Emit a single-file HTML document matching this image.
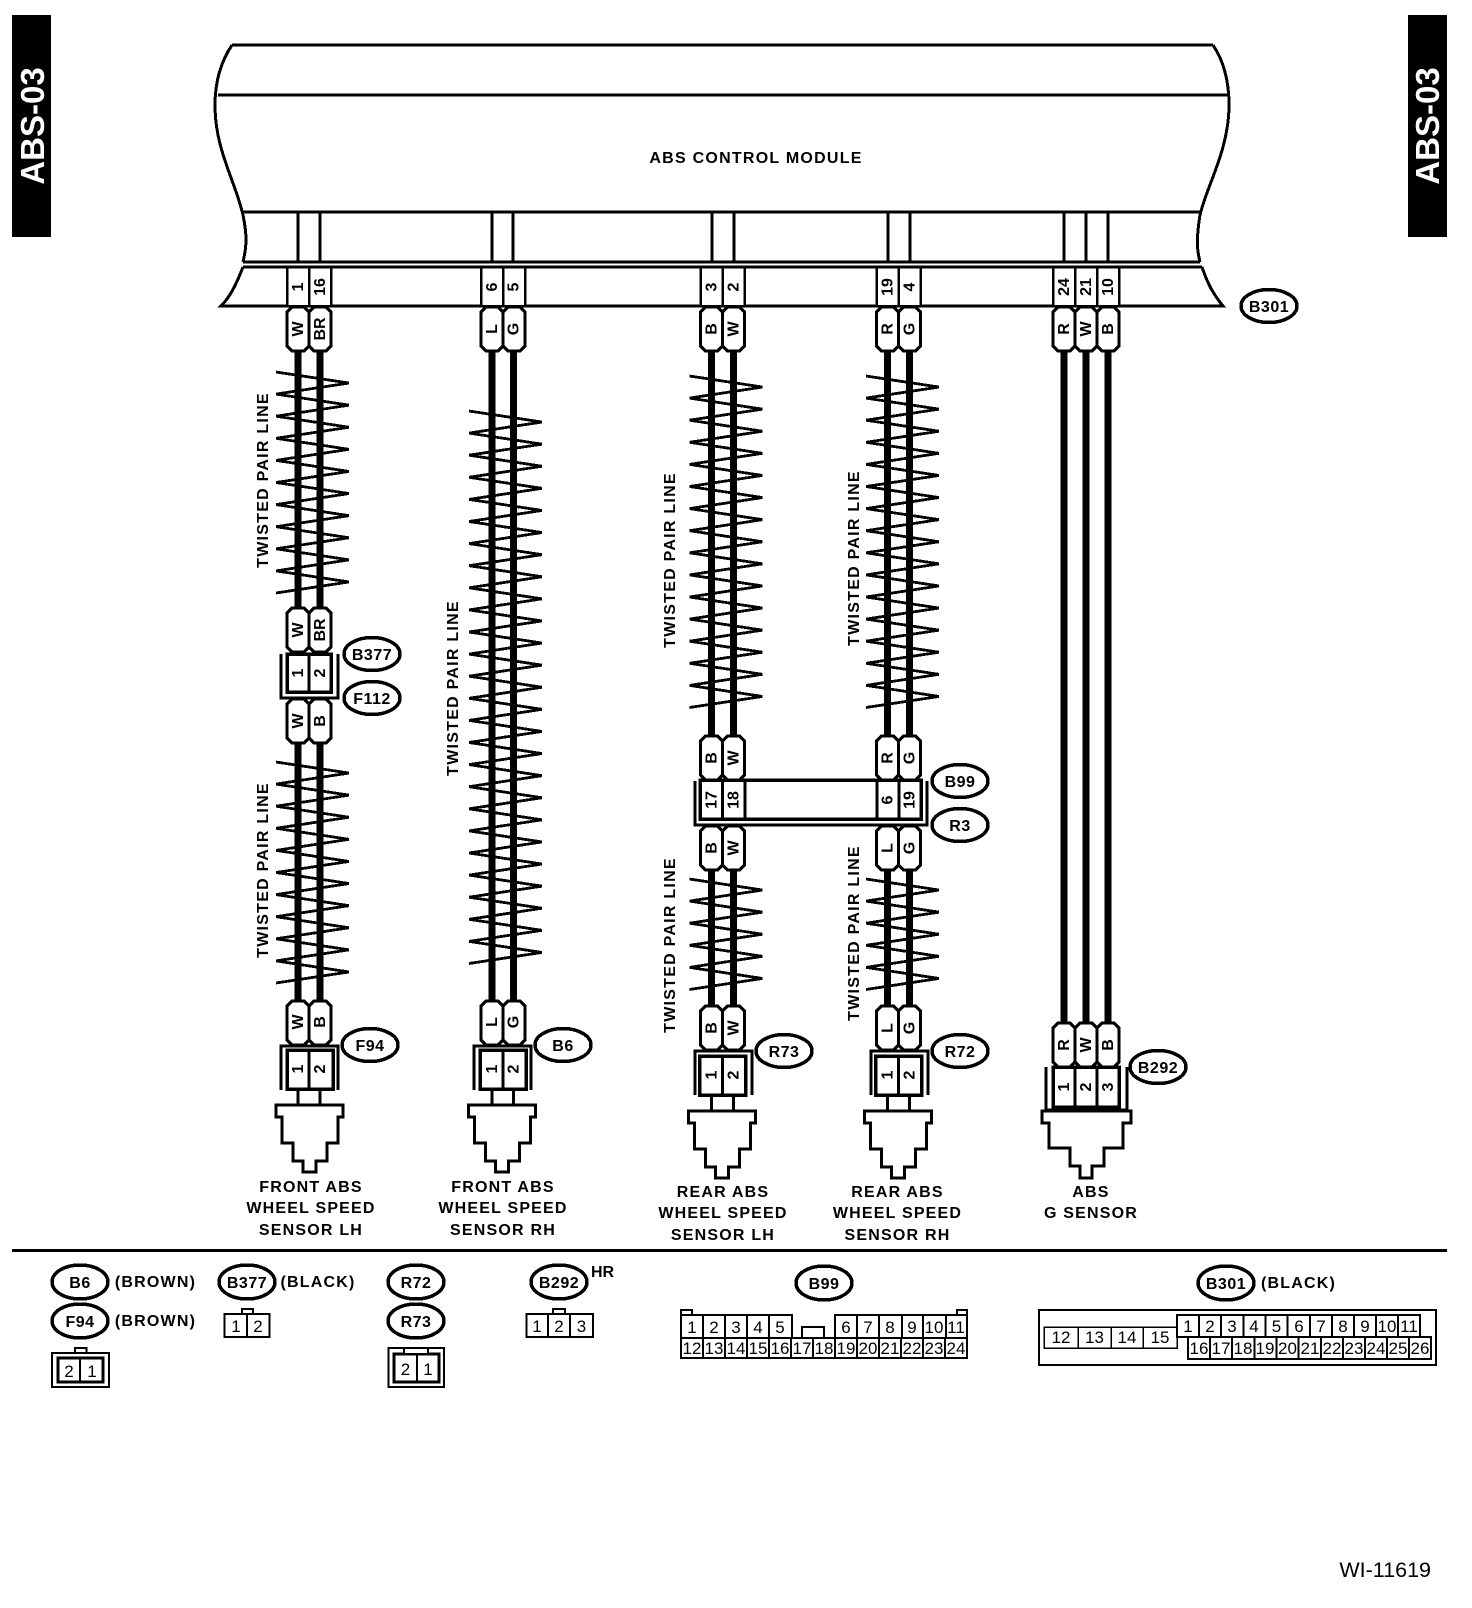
<!DOCTYPE html>
<html lang="en">
<head>
<meta charset="utf-8">
<title>ABS-03 wiring diagram</title>
<style>
html,body{margin:0;padding:0;background:#fff;width:1472px;height:1608px;overflow:hidden}
svg{display:block}
text{font-family:"Liberation Sans",sans-serif;fill:#000}
.b{font-weight:bold;font-size:16px}
.m{text-anchor:middle}
.ls{letter-spacing:1.25px}
.l{font-size:16px;font-weight:bold;letter-spacing:1.2px;text-anchor:middle}
.n{font-size:17px;text-anchor:middle}
.s{fill:none;stroke:#000;stroke-width:3}
.t{fill:#fff;stroke:#000;stroke-width:3}
.c{fill:#fff;stroke:#000;stroke-width:2}
.o{fill:#fff;stroke:#000;stroke-width:3.5}
.w{stroke:#000;stroke-width:7;fill:none}
.z{fill:none;stroke:#000;stroke-width:2.8}
.k{stroke-width:3.5}
</style>
</head>
<body>
<svg width="1472" height="1608" viewBox="0 0 1472 1608" xmlns="http://www.w3.org/2000/svg" shape-rendering="crispEdges">
<defs>
<path id="tm" class="t" d="M5 0H17L22 5V39L17 44H5L0 39V5Z"/>
<path id="z5" class="z" d="M0 0l73 11.05-73 11.05l73 11.05-73 11.05l73 11.05-73 11.05l73 11.05-73 11.05l73 11.05-73 11.05"/>
<path id="sn" class="s" d="M276 1105H343V1117H338V1143H327V1161H316V1172H303V1161H293V1143H282V1117H276Z"/>
</defs>

<!-- side tabs -->
<rect x="12" y="15" width="39" height="222" fill="#000"/>
<rect x="1408" y="15" width="39" height="222" fill="#000"/>
<text transform="translate(44 126) rotate(-90)" class="b m" style="font-size:33px;fill:#fff">ABS-03</text>
<text transform="translate(1439 126) rotate(-90)" class="b m" style="font-size:33px;fill:#fff">ABS-03</text>

<!-- module -->
<path class="s" d="M232 45H1213"/>
<path class="s" d="M218 95H1228"/>
<path class="s" d="M243 212H1201"/>
<path class="s" d="M243 262H1200"/>
<path class="s" d="M243 267H1202"/>
<path class="s" d="M232 45C222 60 215 80 215 105C215 150 235 180 243 215C247 235 247 245 243 262"/>
<path class="s" d="M1213 45C1223 60 1229 80 1229 105C1229 150 1207 185 1200 215C1196 240 1197 250 1200 262"/>
<path class="s" d="M243 267C236 285 230 297 221 306H1223C1214 295 1208 285 1202 267"/>
<text x="756" y="163" class="b m ls">ABS CONTROL MODULE</text>
<path class="s" d="M298 212V262M320 212V262M492 212V262M513 212V262M712 212V262M734 212V262M888 212V262M910 212V262M1064 212V262M1086 212V262M1108 212V262"/>

<!-- top pin boxes -->
<g class="c" style="stroke-width:2.500">
<rect x="287" y="267" width="22" height="39"/><rect x="309" y="267" width="22" height="39"/>
<rect x="481" y="267" width="22" height="39"/><rect x="503" y="267" width="22" height="39"/>
<rect x="700.500" y="267" width="22" height="39"/><rect x="722.500" y="267" width="22" height="39"/>
<rect x="876.500" y="267" width="22" height="39"/><rect x="898.500" y="267" width="22" height="39"/>
<rect x="1053" y="267" width="22" height="39"/><rect x="1075" y="267" width="22" height="39"/><rect x="1097" y="267" width="22" height="39"/>
</g>
<g class="b m" transform="translate(-1.5 0)">
<text transform="translate(304.500 287) rotate(-90)">1</text><text transform="translate(326.500 287) rotate(-90)">16</text>
<text transform="translate(498.500 287) rotate(-90)">6</text><text transform="translate(520 287) rotate(-90)">5</text>
<text transform="translate(718 287) rotate(-90)">3</text><text transform="translate(740 287) rotate(-90)">2</text>
<text transform="translate(894 287) rotate(-90)">19</text><text transform="translate(916 287) rotate(-90)">4</text>
<text transform="translate(1070.500 287) rotate(-90)">24</text><text transform="translate(1092.500 287) rotate(-90)">21</text><text transform="translate(1114.500 287) rotate(-90)">10</text>
</g>

<!-- wires -->
<path class="w" d="M298 351V608M320 351V608M298 743V1001M320 743V1001"/>
<path class="w" d="M492 351V1001M513.500 351V1001"/>
<path class="w" d="M711.500 351V736M733.500 351V736M711.500 870V1006M733.500 870V1006"/>
<path class="w" d="M887.500 351V736M909.500 351V736M887.500 870V1006M909.500 870V1006"/>
<path class="w" d="M1064 351V1023M1086 351V1023M1108 351V1023"/>

<!-- twists -->
<use href="#z5" x="276" y="372"/><use href="#z5" x="276" y="482.500"/>
<use href="#z5" x="276" y="762"/><use href="#z5" x="276" y="872.500"/>
<use href="#z5" x="469" y="411"/><use href="#z5" x="469" y="521.500"/><use href="#z5" x="469" y="632"/><use href="#z5" x="469" y="742.500"/><use href="#z5" x="469" y="853"/>
<use href="#z5" x="689.500" y="376"/><use href="#z5" x="689.500" y="486.500"/><use href="#z5" x="689.500" y="597"/>
<use href="#z5" x="866" y="376"/><use href="#z5" x="866" y="486.500"/><use href="#z5" x="866" y="597"/>
<use href="#z5" x="689.500" y="879"/>
<use href="#z5" x="866" y="879"/>

<g class="b m ls" transform="translate(-2 -1)">
<text transform="translate(270 481) rotate(-90)">TWISTED PAIR LINE</text>
<text transform="translate(270 871) rotate(-90)">TWISTED PAIR LINE</text>
<text transform="translate(460 689) rotate(-90)">TWISTED PAIR LINE</text>
<text transform="translate(677 561) rotate(-90)">TWISTED PAIR LINE</text>
<text transform="translate(677 946) rotate(-90)">TWISTED PAIR LINE</text>
<text transform="translate(861 559) rotate(-90)">TWISTED PAIR LINE</text>
<text transform="translate(861 934) rotate(-90)">TWISTED PAIR LINE</text>
</g>

<!-- top terminals -->
<use href="#tm" x="287" y="307"/><use href="#tm" x="309" y="307"/>
<use href="#tm" x="481" y="307"/><use href="#tm" x="503" y="307"/>
<use href="#tm" x="700.500" y="307"/><use href="#tm" x="722.500" y="307"/>
<use href="#tm" x="876.500" y="307"/><use href="#tm" x="898.500" y="307"/>
<use href="#tm" x="1053" y="307"/><use href="#tm" x="1075" y="307"/><use href="#tm" x="1097" y="307"/>
<g class="b m" transform="translate(-1.5 0)">
<text transform="translate(304.500 329) rotate(-90)">W</text><text transform="translate(326.500 329) rotate(-90)">BR</text>
<text transform="translate(498.500 329) rotate(-90)">L</text><text transform="translate(520 329) rotate(-90)">G</text>
<text transform="translate(718 329) rotate(-90)">B</text><text transform="translate(740 329) rotate(-90)">W</text>
<text transform="translate(894 329) rotate(-90)">R</text><text transform="translate(916 329) rotate(-90)">G</text>
<text transform="translate(1070.500 329) rotate(-90)">R</text><text transform="translate(1092.500 329) rotate(-90)">W</text><text transform="translate(1114.500 329) rotate(-90)">B</text>
</g>

<!-- B377 / F112 -->
<use href="#tm" x="287" y="608"/><use href="#tm" x="309" y="608"/>
<rect x="287" y="654" width="44" height="38" class="t k"/><path class="s" d="M309 654V692"/>
<path class="s" d="M281 654V698H338V654"/>
<use href="#tm" x="287" y="699"/><use href="#tm" x="309" y="699"/>
<g class="b m" transform="translate(-1.5 0)">
<text transform="translate(304.500 630) rotate(-90)">W</text><text transform="translate(326.500 630) rotate(-90)">BR</text>
<text transform="translate(304.500 673) rotate(-90)">1</text><text transform="translate(326.500 673) rotate(-90)">2</text>
<text transform="translate(304.500 721) rotate(-90)">W</text><text transform="translate(326.500 721) rotate(-90)">B</text>
</g>

<!-- B99 / R3 -->
<use href="#tm" x="700.500" y="736"/><use href="#tm" x="722.500" y="736"/>
<use href="#tm" x="876.500" y="736"/><use href="#tm" x="898.500" y="736"/>
<rect x="700" y="780" width="221" height="39" class="t k"/>
<path class="s" d="M722.500 780V819M745 780V819M877 780V819M899 780V819"/>
<path class="s" d="M695 781V825H927V781"/>
<use href="#tm" x="700.500" y="826"/><use href="#tm" x="722.500" y="826"/>
<use href="#tm" x="876.500" y="826"/><use href="#tm" x="898.500" y="826"/>
<g class="b m" transform="translate(-1.5 0)">
<text transform="translate(718 758) rotate(-90)">B</text><text transform="translate(740 758) rotate(-90)">W</text>
<text transform="translate(894 758) rotate(-90)">R</text><text transform="translate(916 758) rotate(-90)">G</text>
<text transform="translate(718 800) rotate(-90)">17</text><text transform="translate(740 800) rotate(-90)">18</text>
<text transform="translate(894 800) rotate(-90)">6</text><text transform="translate(916 800) rotate(-90)">19</text>
<text transform="translate(718 848) rotate(-90)">B</text><text transform="translate(740 848) rotate(-90)">W</text>
<text transform="translate(894 848) rotate(-90)">L</text><text transform="translate(916 848) rotate(-90)">G</text>
</g>

<!-- bottom connectors & sensors -->
<!-- col1 -->
<use href="#tm" x="287" y="1001"/><use href="#tm" x="309" y="1001"/>
<path class="s" d="M281 1090V1046H338V1090"/>
<rect x="287" y="1050" width="46" height="39" class="t k"/><path class="s" d="M309 1050V1089"/>
<path class="s" d="M298 1089V1105M320 1089V1105"/>
<use href="#sn"/>
<!-- col2 -->
<use href="#tm" x="481" y="1001"/><use href="#tm" x="503" y="1001"/>
<path class="s" d="M474 1090V1046H531V1090"/>
<rect x="480" y="1050" width="46" height="39" class="t k"/><path class="s" d="M503 1050V1089"/>
<path class="s" d="M492 1089V1105M513.500 1089V1105"/>
<use href="#sn" x="192.500"/>
<!-- col3 -->
<use href="#tm" x="700.500" y="1006"/><use href="#tm" x="722.500" y="1006"/>
<path class="s" d="M695 1095V1051H752V1095"/>
<rect x="699.500" y="1056" width="46" height="39" class="t k"/><path class="s" d="M722.500 1056V1095"/>
<path class="s" d="M711.500 1095V1111M733.500 1095V1111"/>
<use href="#sn" x="412.500" y="6"/>
<!-- col4 -->
<use href="#tm" x="876.500" y="1006"/><use href="#tm" x="898.500" y="1006"/>
<path class="s" d="M871 1095V1051H928V1095"/>
<rect x="875.500" y="1056" width="46" height="39" class="t k"/><path class="s" d="M898.500 1056V1095"/>
<path class="s" d="M887.500 1095V1111M909.500 1095V1111"/>
<use href="#sn" x="588.500" y="6"/>
<!-- col5 -->
<use href="#tm" x="1053" y="1023"/><use href="#tm" x="1075" y="1023"/><use href="#tm" x="1097" y="1023"/>
<path class="s" d="M1046 1067V1110H1127V1067"/>
<rect x="1053" y="1067" width="66" height="40" class="t k"/><path class="s" d="M1075 1067V1107M1097 1067V1107"/>
<path class="s" d="M1042 1111H1131V1123H1123V1148H1104V1166H1092V1178H1080V1166H1070V1148H1049V1123H1042Z"/>

<g class="b m" transform="translate(-1.5 0)">
<text transform="translate(304.500 1022) rotate(-90)">W</text><text transform="translate(326.500 1022) rotate(-90)">B</text>
<text transform="translate(304.500 1069) rotate(-90)">1</text><text transform="translate(326.500 1069) rotate(-90)">2</text>
<text transform="translate(498.500 1022) rotate(-90)">L</text><text transform="translate(520 1022) rotate(-90)">G</text>
<text transform="translate(498.500 1069) rotate(-90)">1</text><text transform="translate(520 1069) rotate(-90)">2</text>
<text transform="translate(718 1028) rotate(-90)">B</text><text transform="translate(740 1028) rotate(-90)">W</text>
<text transform="translate(718 1075) rotate(-90)">1</text><text transform="translate(740 1075) rotate(-90)">2</text>
<text transform="translate(894 1028) rotate(-90)">L</text><text transform="translate(916 1028) rotate(-90)">G</text>
<text transform="translate(894 1075) rotate(-90)">1</text><text transform="translate(916 1075) rotate(-90)">2</text>
<text transform="translate(1070.500 1045) rotate(-90)">R</text><text transform="translate(1092.500 1045) rotate(-90)">W</text><text transform="translate(1114.500 1045) rotate(-90)">B</text>
<text transform="translate(1070.500 1087) rotate(-90)">1</text><text transform="translate(1092.500 1087) rotate(-90)">2</text><text transform="translate(1114.500 1087) rotate(-90)">3</text>
</g>

<!-- callout ovals -->
<g>
<ellipse class="o" cx="1269" cy="306" rx="28" ry="16.500"/>
<ellipse class="o" cx="372" cy="654" rx="28" ry="16.500"/>
<ellipse class="o" cx="372" cy="698" rx="28" ry="16.500"/>
<ellipse class="o" cx="370" cy="1045" rx="28" ry="16.500"/>
<ellipse class="o" cx="563" cy="1045" rx="28" ry="16.500"/>
<ellipse class="o" cx="960" cy="781" rx="28" ry="16.500"/>
<ellipse class="o" cx="960" cy="825" rx="28" ry="16.500"/>
<ellipse class="o" cx="784" cy="1051" rx="28" ry="16.500"/>
<ellipse class="o" cx="960" cy="1051" rx="28" ry="16.500"/>
<ellipse class="o" cx="1158" cy="1067" rx="28" ry="16.500"/>
</g>
<g class="l" style="letter-spacing:.5px">
<text x="1269" y="312">B301</text>
<text x="372" y="660">B377</text>
<text x="372" y="704">F112</text>
<text x="370" y="1051">F94</text>
<text x="563" y="1051">B6</text>
<text x="960" y="787">B99</text>
<text x="960" y="831">R3</text>
<text x="784" y="1057">R73</text>
<text x="960" y="1057">R72</text>
<text x="1158" y="1073">B292</text>
</g>

<!-- sensor labels -->
<g class="l">
<text x="311" y="1192">FRONT ABS</text><text x="311" y="1213">WHEEL SPEED</text><text x="311" y="1235">SENSOR LH</text>
<text x="503" y="1192">FRONT ABS</text><text x="503" y="1213">WHEEL SPEED</text><text x="503" y="1235">SENSOR RH</text>
<text x="723" y="1197">REAR ABS</text><text x="723" y="1218">WHEEL SPEED</text><text x="723" y="1240">SENSOR LH</text>
<text x="897.500" y="1197">REAR ABS</text><text x="897.500" y="1218">WHEEL SPEED</text><text x="897.500" y="1240">SENSOR RH</text>
<text x="1091" y="1197">ABS</text><text x="1091" y="1218">G SENSOR</text>
</g>

<!-- separator -->
<rect x="12" y="1249" width="1435" height="3" fill="#000"/>

<!-- legend -->
<ellipse class="o" cx="80" cy="1282" rx="28" ry="17"/>
<ellipse class="o" cx="80" cy="1321" rx="28" ry="17"/>
<ellipse class="o" cx="247" cy="1282" rx="28" ry="17"/>
<ellipse class="o" cx="416" cy="1282" rx="28" ry="17"/>
<ellipse class="o" cx="416" cy="1321" rx="28" ry="17"/>
<ellipse class="o" cx="559" cy="1282" rx="28" ry="17"/>
<ellipse class="o" cx="824" cy="1283" rx="28" ry="17"/>
<ellipse class="o" cx="1226" cy="1283" rx="28" ry="17"/>
<g class="l" style="letter-spacing:.5px">
<text x="80" y="1288">B6</text><text x="80" y="1327">F94</text>
<text x="247" y="1288">B377</text>
<text x="416" y="1288">R72</text><text x="416" y="1327">R73</text>
<text x="559" y="1288">B292</text>
<text x="824" y="1289">B99</text>
<text x="1226" y="1289">B301</text>
</g>
<text x="155.500" y="1287" class="l">(BROWN)</text>
<text x="155.500" y="1326" class="l">(BROWN)</text>
<text x="318" y="1287" class="l">(BLACK)</text>
<text x="1298.500" y="1288" class="l">(BLACK)</text>
<text x="591" y="1277" class="b">HR</text>

<!-- legend connector 2-1 brown -->
<rect class="c" x="75" y="1348" width="11.500" height="5"/>
<rect class="c" x="52" y="1353" width="57" height="34"/>
<rect class="c" x="58" y="1358" width="45" height="24" style="stroke-width:3"/>
<path class="c" d="M80 1358V1382"/>
<text x="69" y="1377" class="n">2</text><text x="92" y="1377" class="n">1</text>

<!-- B377 legend -->
<rect class="c" x="242" y="1309" width="11" height="5"/>
<rect class="c" x="224.500" y="1314" width="45" height="23"/>
<path class="c" d="M247 1314V1337"/>
<text x="236" y="1332" class="n">1</text><text x="258" y="1332" class="n">2</text>

<!-- R72 / R73 legend -->
<rect class="c" x="388.500" y="1348" width="55.500" height="39"/>
<rect class="c" x="394" y="1354" width="45" height="28" style="stroke-width:3"/>
<rect class="c" x="404" y="1348" width="24" height="6"/>
<path class="c" d="M417 1354V1382"/>
<text x="405.500" y="1375" class="n">2</text><text x="428" y="1375" class="n">1</text>

<!-- B292 legend -->
<rect class="c" x="553" y="1309" width="12" height="5"/>
<rect class="c" x="526.500" y="1314" width="66.500" height="23"/>
<path class="c" d="M548 1314V1337M570 1314V1337"/>
<text x="537" y="1332" class="n">1</text><text x="559" y="1332" class="n">2</text><text x="581.500" y="1332" class="n">3</text>

<!-- B99 legend -->
<rect class="c" x="681" y="1310" width="11" height="5"/>
<rect class="c" x="957" y="1310" width="10" height="5"/>
<rect class="c" x="802" y="1327" width="22" height="11"/>
<path class="c" d="M792 1338V1315H681V1358H967V1315H835V1338M681 1338H967"/>
<path class="c" d="M703 1315V1338M725 1315V1338M747 1315V1338M769 1315V1338M857 1315V1338M879 1315V1338M902 1315V1338M923 1315V1338M946 1315V1338"/>
<path class="c" d="M703 1338V1358M725 1338V1358M747 1338V1358M769 1338V1358M791 1338V1358M813 1338V1358M835 1338V1358M857 1338V1358M879 1338V1358M901 1338V1358M923 1338V1358M945 1338V1358"/>
<g class="n">
<text x="692" y="1333">1</text><text x="714" y="1333">2</text><text x="736" y="1333">3</text><text x="758" y="1333">4</text><text x="780" y="1333">5</text>
<text x="846" y="1333">6</text><text x="868" y="1333">7</text><text x="890" y="1333">8</text><text x="912" y="1333">9</text><text x="934" y="1333">10</text><text x="956" y="1333">11</text>
<text x="692" y="1354">12</text><text x="714" y="1354">13</text><text x="736" y="1354">14</text><text x="758" y="1354">15</text><text x="780" y="1354">16</text><text x="802" y="1354">17</text><text x="824" y="1354">18</text><text x="846" y="1354">19</text><text x="868" y="1354">20</text><text x="890" y="1354">21</text><text x="912" y="1354">22</text><text x="934" y="1354">23</text><text x="956" y="1354">24</text>
</g>

<!-- B301 legend -->
<rect class="c" x="1039" y="1310" width="397" height="55"/>
<rect class="c" x="1044" y="1327" width="133" height="21" style="stroke-width:1.5"/>
<path class="c" style="stroke-width:1.5" d="M1078 1327V1348M1111 1327V1348M1143 1327V1348"/>
<rect class="c" x="1177" y="1315" width="243" height="22"/>
<path class="c" d="M1199 1315V1337M1221 1315V1337M1243.500 1315V1337M1265.500 1315V1337M1287.500 1315V1337M1310 1315V1337M1332 1315V1337M1354 1315V1337M1376 1315V1337M1398 1315V1337"/>
<rect class="c" x="1188" y="1337" width="243" height="22"/>
<path class="c" d="M1210 1337V1359M1232 1337V1359M1254.500 1337V1359M1276.500 1337V1359M1298.500 1337V1359M1321 1337V1359M1343 1337V1359M1365 1337V1359M1387 1337V1359M1409 1337V1359"/>
<g class="n">
<text x="1061" y="1343">12</text><text x="1094.500" y="1343">13</text><text x="1127" y="1343">14</text><text x="1160" y="1343">15</text>
<text x="1188" y="1332">1</text><text x="1210" y="1332">2</text><text x="1232" y="1332">3</text><text x="1254" y="1332">4</text><text x="1276.500" y="1332">5</text><text x="1299" y="1332">6</text><text x="1321" y="1332">7</text><text x="1343" y="1332">8</text><text x="1365" y="1332">9</text><text x="1387" y="1332">10</text><text x="1409" y="1332">11</text>
<text x="1199" y="1354">16</text><text x="1221" y="1354">17</text><text x="1243" y="1354">18</text><text x="1265" y="1354">19</text><text x="1287.500" y="1354">20</text><text x="1310" y="1354">21</text><text x="1332" y="1354">22</text><text x="1354" y="1354">23</text><text x="1376" y="1354">24</text><text x="1398" y="1354">25</text><text x="1420" y="1354">26</text>
</g>

<text x="1431" y="1577" style="font-size:21.500px;text-anchor:end">WI-11619</text>
</svg>
</body>
</html>
